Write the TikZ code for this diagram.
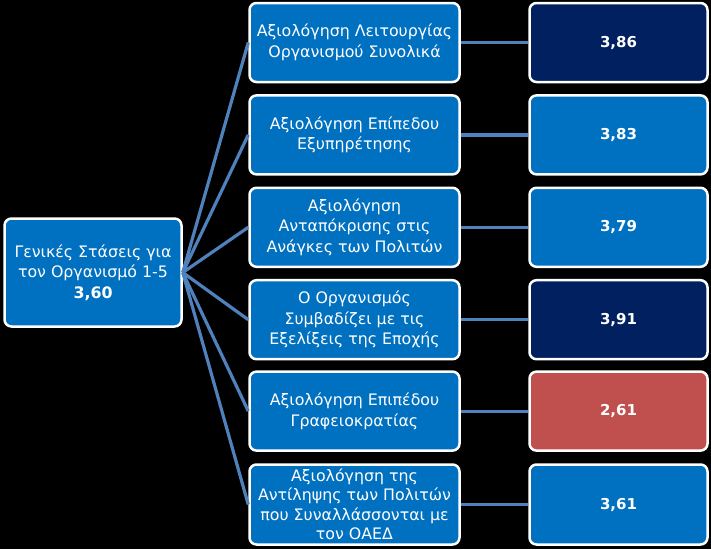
\documentclass[tikz,border=0pt]{standalone}
\usepackage{fontspec}
\setmainfont{DejaVu Sans}
\definecolor{boxblue}{RGB}{0, 112, 192}
\definecolor{navy1}{RGB}{0, 32, 96}
\definecolor{lowred}{RGB}{192, 80, 77}
\definecolor{linkblue}{RGB}{79, 129, 189}
\usetikzlibrary{positioning}

\begin{document}
\begin{tikzpicture}[x=1pt, y=-1pt,
  sbox/.style={draw=white, line width=2.5pt, rounded corners=7pt, text=white, align=center,
    font=\fontsize{15.8}{20.5}\selectfont, inner sep=1pt},
  qbox/.style={sbox, fill=boxblue, minimum width=210pt, minimum height=79pt},
  vbox/.style={sbox, minimum width=178pt, minimum height=79pt, font=\fontsize{15}{20}\selectfont\bfseries},
  link/.style={draw=linkblue, line width=3.2pt}
]
  \fill[black] (0,0) rectangle (711,549);

  \node[sbox, fill=boxblue, minimum width=177pt, minimum height=108pt] (gen) at (93, 272.5)
    {Γενικές Στάσεις για\\τον Οργανισμό 1-5\\\textbf{3,60}};

  \node[qbox] (q1) at (354.5, 42.5) {Αξιολόγηση Λειτουργίας\\Οργανισμού Συνολικά};
  \node[qbox] (q2) at (354.5, 134.9) {Αξιολόγηση Επίπεδου\\Εξυπηρέτησης};
  \node[qbox] (q3) at (354.5, 227.3) {Αξιολόγηση\\Ανταπόκρισης στις\\Ανάγκες των Πολιτών};
  \node[qbox] (q4) at (354.5, 319.7) {Ο Οργανισμός\\Συμβαδίζει με τις\\Εξελίξεις της Εποχής};
  \node[qbox] (q5) at (354.5, 411.1) {Αξιολόγηση Επιπέδου\\Γραφειοκρατίας};
  \node[qbox, minimum height=80pt, font=\fontsize{15.8}{19.5}\selectfont] (q6) at (354.5, 504.5)
    {Αξιολόγηση της\\Αντίληψης των Πολιτών\\που Συναλλάσσονται με\\τον ΟΑΕΔ};

  \node[vbox, fill=navy1] (v1) at (618.5, 42.5) {3,86};
  \node[vbox, fill=boxblue] (v2) at (618.5, 134.9) {3,83};
  \node[vbox, fill=boxblue] (v3) at (618.5, 227.3) {3,79};
  \node[vbox, fill=navy1] (v4) at (618.5, 319.7) {3,91};
  \node[vbox, fill=lowred] (v5) at (618.5, 411.1) {2,61};
  \node[vbox, fill=boxblue, minimum height=80pt] (v6) at (618.5, 504.5) {3,61};

  % connectors
  \draw[link] (gen.east) -- (q1.west);
  \draw[link] (gen.east) -- (q2.west);
  \draw[link] (gen.east) -- (q3.west);
  \draw[link] (gen.east) -- (q4.west);
  \draw[link] (gen.east) -- (q5.west);
  \draw[link] (gen.east) -- (q6.west);
  \draw[link] (q1.east) -- (v1.west);
  \draw[link] (q2.east) -- (v2.west);
  \draw[link] (q3.east) -- (v3.west);
  \draw[link] (q4.east) -- (v4.west);
  \draw[link] (q5.east) -- (v5.west);
  \draw[link] (q6.east) -- (v6.west);
\end{tikzpicture}
\end{document}
